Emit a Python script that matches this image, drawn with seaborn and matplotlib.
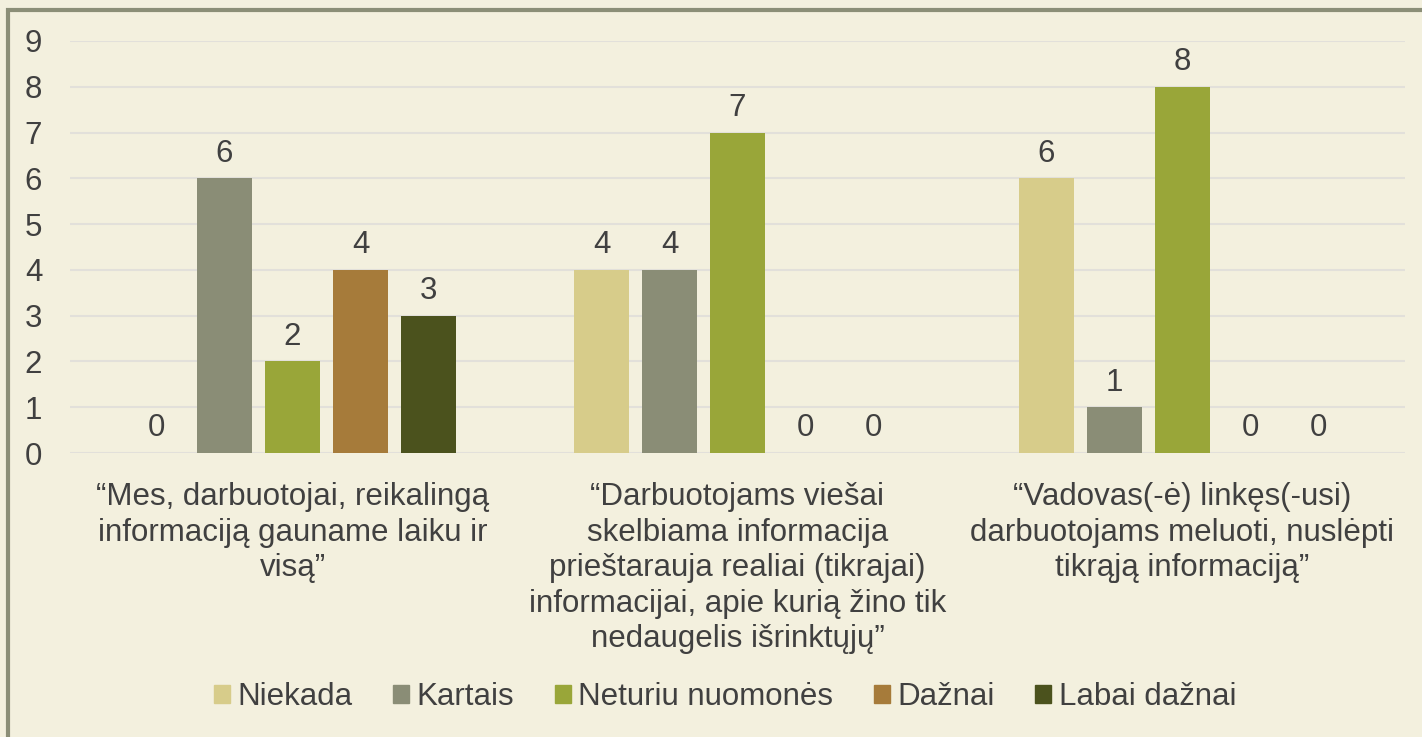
import pandas as pd
import matplotlib.pyplot as plt
import matplotlib.patches as patches
import seaborn as sns

# Chart data
categories = ["“Mes, darbuotojai, reikalingą\ninformaciją gauname laiku ir\nvisą”",
              "“Darbuotojams viešai\nskelbiama informacija\nprieštarauja realiai (tikrajai)\ninformacijai, apie kurią žino tik\nnedaugelis išrinktųjų”",
              "“Vadovas(-ė) linkęs(-usi)\ndarbuotojams meluoti, nuslėpti\ntikrąją informaciją”"]
series_names = ['Niekada', 'Kartais', 'Neturiu nuomonės', 'Dažnai', 'Labai dažnai']
niekada = [0, 4, 6]
kartais = [6, 4, 1]
neturiu = [2, 7, 8]
daznai = [4, 0, 0]
labai_daznai = [3, 0, 0]
yticks = [0, 1, 2, 3, 4, 5, 6, 7, 8, 9]

colors = ['#D7CC8A', '#8A8D76', '#99A639', '#A67B3A', '#4B521D']
bg = '#F3F0DE'
text_col = '#404040'
fs = 22.5

# Long-form table for seaborn
rows = []
for name, vals in zip(series_names, [niekada, kartais, neturiu, daznai, labai_daznai]):
    for cat, v in zip(categories, vals):
        rows.append({'cat': cat, 'series': name, 'value': v})
df = pd.DataFrame(rows)

sns.set_style('white')
plt.rcParams['font.family'] = ['Liberation Sans', 'DejaVu Sans']

fig = plt.figure(figsize=(14.22, 7.37), dpi=100, facecolor=bg)
ax = fig.add_axes([0.0492, 0.3853, 0.9388, 0.5591])
ax.set_facecolor(bg)

sns.barplot(data=df, x='cat', y='value', hue='series', hue_order=series_names,
            order=categories, palette=colors, saturation=1, width=0.764, gap=0.2,
            linewidth=0, ax=ax, legend=False)

# Value labels
for cont in ax.containers:
    ax.bar_label(cont, fmt='%d', padding=7, fontsize=fs, color=text_col)

ax.set_ylim(0, 9)
ax.set_xlim(-0.5, 2.5)
ax.set_yticks(yticks)
ax.yaxis.grid(True, color='#E2E0DA', linewidth=1.5)
ax.set_axisbelow(True)
for s in ax.spines.values():
    s.set_visible(False)
ax.tick_params(axis='y', length=0, pad=20, labelsize=fs, labelcolor=text_col)
ax.tick_params(axis='x', length=0, pad=21, labelsize=fs, labelcolor=text_col)
for lbl in ax.get_xticklabels():
    lbl.set_linespacing(1.24)
ax.set_xlabel('')
ax.set_ylabel('')

# Legend
handles = [patches.Patch(color=c, label=n) for c, n in zip(colors, series_names)]
fig.legend(handles=handles, loc='center', bbox_to_anchor=(0.51, 0.054), ncol=5,
           frameon=False, fontsize=fs, handlelength=0.5, handleheight=0.5,
           handletextpad=0.25, columnspacing=1.3, labelcolor=text_col)

# Outer frame
frame = patches.Rectangle((8 / 1422, -0.02), 1.1, 1.02 - 10 / 737,
                          transform=fig.transFigure, fill=False,
                          edgecolor='#8B8E77', linewidth=3, clip_on=False)
fig.patches.append(frame)

plt.savefig('out.png', dpi=100, facecolor=bg)
